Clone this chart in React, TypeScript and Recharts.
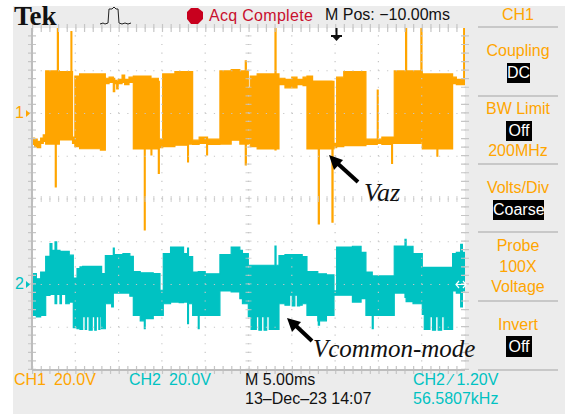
import React from 'react'
import { Area, ComposedChart, ReferenceLine, XAxis, YAxis } from 'recharts'

// CH1 envelope, ms / volts (20 V/div, marker at 0 V)
const ch1Time = [0, 0.3, 0.6, 1.0, 1.3, 1.58, 2.69, 2.8, 2.93, 3.05, 3.16, 4.5, 4.6, 4.68, 4.95, 5.5, 7.9, 8.47, 8.9, 9.39, 9.55, 9.78, 9.95, 10.4, 10.7, 11.2, 11.7, 12.97, 13.07, 13.74, 13.84, 14.59, 14.7, 15.09, 16.5, 17.97, 18.07, 18.55, 19.3, 20.17, 20.27, 21.7, 23, 24, 24.63, 24.75, 24.98, 25.2, 26, 28.06, 28.18, 28.52, 29.21, 30, 30.6, 31.3, 31.75, 32.4, 33.06, 33.18, 34.64, 34.76, 34.87, 35.18, 36, 38.56, 39.87, 39.97, 40.4, 41.53, 41.63, 41.83, 43.14, 43.26, 44.91, 45.03, 45.07, 46.76, 46.86, 48.57, 49, 49.85, 50]
const ch1High = [-11.5, -12, -13, -11.5, -10, 19.9, 19.9, 19.9, 40, 19.9, 19.6, 38.3, 19.6, -11, 17.5, 18.5, 18.5, 16.5, 17, 16.5, 15.5, 15, 16, 18, 16, 17, 17.5, 17.5, 17.5, 16.5, 16.5, 15, -12, 18.5, 19.6, 19.6, 19.6, -12.5, -11, -11, -12, 19.9, 20.5, 19.9, 24.6, 19.9, 12, 17.5, 18.5, 40, 18.5, 16.5, 16, 17, 16, 17, 17.5, 15.2, 15.2, 15.2, 15, 15, -14, 17, 19.6, -12, 11, -12, -11, -11, -11, 19.9, 40, 19.9, 40, 19.9, 18.5, 18.5, 18.5, 17, 16, 40, 40]
const ch1Low = [-14.5, -15.5, -16, -14, -13, -14.3, -34.3, -14.3, -14.3, -14.3, -12.4, -12.4, -12.4, -14, -15.5, -16.5, -17.1, 14, 14.5, 10.2, 14, 11.5, 14, 14.5, 13.5, 14.5, -16.6, -54.5, -16.6, -19.4, -16.6, -28, -16, -15.5, -14.8, -22.6, -14.3, -14.5, -14, -19.4, -14.5, -14.3, -12.5, -14.3, -24.1, -14.3, -14, -15.5, -16.6, -17, -16.6, 13.5, 12, 12, 13.5, 13, -16.6, -16.6, -51.7, -16.6, -50.8, -16.6, -16, -15.5, -15, -14.5, -14, -14, -14.5, -23.3, -14, -14, -14, -14, -13, -13, -16.6, -20, -16.6, 14, 13.5, 13.5, 13.5]

// CH2 envelope, ms / volts (20 V/div, marker at 0 V)
const ch2Time = [0, 0.5, 1, 1.58, 2.08, 2.3, 2.66, 2.85, 3.23, 3.4, 3.9, 4.3, 4.77, 5.2, 5.54, 5.85, 6.15, 6.3, 6.6, 6.95, 7.25, 7.42, 7.72, 7.85, 8.04, 8.47, 9.2, 9.39, 9.5, 10.5, 11.3, 11.7, 12.5, 12.97, 13.07, 14, 14.78, 15.16, 16, 17, 17.5, 17.97, 18.07, 18.55, 19.2, 19.3, 20, 21.7, 23, 24, 24.3, 24.98, 25.3, 25.9, 26.2, 26.5, 26.8, 27.1, 27.4, 28.06, 28.18, 28.52, 29.21, 29.75, 30.05, 30.35, 30.65, 30.9, 31.2, 31.75, 33, 33.06, 33.2, 34, 34.87, 35.18, 37, 38, 38.56, 39.29, 39.4, 40.5, 41.83, 43.07, 43.2, 44, 45.07, 45.3, 45.95, 46.25, 46.6, 46.9, 47.3, 47.6, 48.57, 49, 49.5, 49.7, 50]
const ch2High = [5.1, 2.7, 5.8, 13.2, 19.1, 16, 19.9, 16, 15.5, 15.5, 15.5, 13.7, 3, 7.4, 8.2, 8.5, 8.5, 8.5, 8.5, 8.5, 8.5, 8.5, 8.5, 8.5, 5.1, 13.5, 13.5, 17, 14, 14.5, 13.2, 6, 5.5, 5.5, 5.5, 5.1, -2.7, 14.4, 17.5, 17.5, 14.4, 17, 13, 5.8, 6, 6, 5, 14, 17.5, 16, 14.4, 9, 9, 9, 9, 9, 9, 9, 9, 18, 9, 13.5, 14, 14, 14, 14, 14, 14, 13, 6, 5, 5, 5, 4.5, -3, 17.5, 17.9, 15, 5.8, 3, 4, 4, 18, 21.1, 17.9, 14.5, 8, 8, 8, 8, 8, 8, 8, 8, 14.5, 15, 18.8, 15, 15]
const ch2Low = [-14.4, -15.2, -14.4, -5.1, -4.6, -4.6, -9, -4.6, -9, -4.6, -9, -8.2, -20.2, -20.7, -21, -15, -21, -15, -21.4, -15, -21.4, -15, -21, -15, -20.7, -9, -10.5, -4, -4, -4, -5.5, -14.4, -17, -20.7, -16, -14.4, -14.4, -9, -8.2, -8.5, -8.2, -18.3, -9, -14.4, -20.7, -14.4, -14.4, -3, -3.5, -6.6, -9, -15, -21, -15, -21.4, -15, -21.4, -15, -21, -21, -21, -9, -9.7, -5, -10, -5, -10, -9.7, -9, -14.4, -17, -19, -17, -14.4, -5, -5, -8.2, -6.6, -14.4, -20.7, -14.4, -14.4, -4, -6, -8, -9, -14, -21, -15, -21.4, -15, -21.4, -15, -21, -3, -4, -10.5, -3, -3]

const timeDivs = [0, 5, 10, 15, 20, 25, 30, 35, 40, 45, 50]
const voltDivs = [40, 20, 0, -20, -40, -60, -80, -100, -120]

const ch1Rows = ch1Time.map((t, i) => ({ t, range: [ch1Low[i], ch1High[i]] }))
const ch2Rows = ch2Time.map((t, i) => ({ t, range: [ch2Low[i], ch2High[i]] }))

const ORANGE = '#ffa500'
const TEAL = '#00c2c2'
const GRID = '#c6c6c6'
const scopeFont = '"Liberation Sans", Arial, sans-serif'
const paperFont = '"Liberation Serif", "Times New Roman", serif'

const label = (
  text: string,
  x: number,
  y: number,
  color: string,
  extra: React.CSSProperties = {},
) => (
  <div
    style={{
      position: 'absolute',
      left: x,
      top: y - 10,
      height: 20,
      lineHeight: '20px',
      fontFamily: scopeFont,
      fontSize: 16,
      color,
      whiteSpace: 'pre',
      ...extra,
    }}
  >
    {text}
  </div>
)

const sideLabel = (text: string, y: number) =>
  label(text, 458, y, ORANGE, { width: 120, textAlign: 'center' })

const blackBox = (text: string, x: number, y: number, w: number, h: number) => (
  <div
    style={{
      position: 'absolute',
      left: x,
      top: y,
      width: w,
      height: h,
      lineHeight: `${h}px`,
      background: '#000',
      color: '#fff',
      textAlign: 'center',
      fontFamily: scopeFont,
      fontSize: 16,
    }}
  >
    {text}
  </div>
)

const App = () => {
  return (
    <div style={{ position: 'absolute', left: 0, top: 0, width: 569, height: 414, background: '#fff', overflow: 'hidden' }}>
      <div style={{ position: 'absolute', left: 13, top: 6, width: 552, height: 408, background: '#ececec' }} />
      <div style={{ position: 'absolute', left: 32, top: 28, width: 433, height: 342, background: '#fff' }} />

      <div style={{ position: 'absolute', left: 0, top: 0 }}>
        <ComposedChart width={569} height={414} margin={{ top: 28, right: 104, bottom: 44, left: 32 }}>
          <XAxis type="number" dataKey="t" domain={[0, 50]} hide allowDataOverflow />
          <YAxis yAxisId="ch1" type="number" domain={[-120, 40]} hide allowDataOverflow />
          <YAxis yAxisId="ch2" type="number" domain={[-40, 120]} hide allowDataOverflow />
          <Area
            data={ch1Rows}
            yAxisId="ch1"
            dataKey="range"
            type="stepAfter"
            stroke={ORANGE}
            strokeWidth={1.2}
            fill={ORANGE}
            fillOpacity={1}
            dot={false}
            activeDot={false}
            isAnimationActive={false}
          />
          <Area
            data={ch2Rows}
            yAxisId="ch2"
            dataKey="range"
            type="stepAfter"
            stroke={TEAL}
            strokeWidth={1.2}
            fill={TEAL}
            fillOpacity={1}
            dot={false}
            activeDot={false}
            isAnimationActive={false}
          />
          {timeDivs.map((t) => (
            <ReferenceLine key={`v${t}`} yAxisId="ch1" x={t} stroke={GRID} strokeDasharray="1.2 7.35" strokeWidth={1.2} />
          ))}
          {voltDivs.map((v) => (
            <ReferenceLine key={`h${v}`} yAxisId="ch1" y={v} stroke={GRID} strokeDasharray="1.2 7.46" strokeWidth={1.2} />
          ))}
          {/* tick rows: thick short dashes along the edges and centre lines */}
          <ReferenceLine yAxisId="ch1" y={-40} stroke={GRID} strokeOpacity={0.7} strokeDasharray="1.2 7.46" strokeWidth={6} />
          <ReferenceLine yAxisId="ch1" y={40} stroke={GRID} strokeDasharray="1.2 7.46" strokeWidth={8} />
          <ReferenceLine yAxisId="ch1" y={-120} stroke={GRID} strokeDasharray="1.2 7.46" strokeWidth={8} />
          <ReferenceLine yAxisId="ch1" x={25} stroke={GRID} strokeOpacity={0.7} strokeDasharray="1.2 7.35" strokeWidth={6} />
          <ReferenceLine yAxisId="ch1" x={0} stroke={GRID} strokeDasharray="1.2 7.35" strokeWidth={8} />
          <ReferenceLine yAxisId="ch1" x={50} stroke={GRID} strokeDasharray="1.2 7.35" strokeWidth={8} />
          <ReferenceLine yAxisId="ch1" x={0} stroke="#bdbdbd" strokeWidth={2} />
          <ReferenceLine yAxisId="ch1" y={-120} stroke="#bdbdbd" strokeWidth={2} />
        </ComposedChart>
      </div>

      {/* header */}
      <div style={{ position: 'absolute', left: 14, top: 1, fontFamily: paperFont, fontWeight: 700, fontSize: 27, lineHeight: '30px', color: '#111' }}>Tek</div>
      <svg width={569} height={414} style={{ position: 'absolute', left: 0, top: 0 }}>
        <polyline points="100,24 103,23 105,24 108,23 109,9 112,9 114,7 116,9 118,9 119,23 122,24 125,23 128,24 131,23" fill="none" stroke="#222" strokeWidth={1} />
        <polygon points="191,8 198,8 203,12 203,19 198,24 191,24 187,19 187,12" fill="#c8001e" />
        {/* trigger position */}
        <polygon points="331,35 342,35 336.5,41" fill="#111" />
        <line x1={336.5} y1={28} x2={336.5} y2={36} stroke="#111" strokeWidth={2} />
        <line x1={331} y1={36} x2={342} y2={36} stroke="#111" strokeWidth={2} />
        {/* channel markers */}
        <polygon points="26,110 30,113.5 26,117" fill={ORANGE} />
        <polygon points="26,281 30,284.5 26,288" fill={TEAL} />
        {/* ch2 trigger level cursor */}
        <path d="M459 281 L456 284.5 L459 288 M463 281 L466 284.5 L463 288 M456 284.5 H466" fill="none" stroke="#fff" strokeWidth={1.2} />
        {/* annotation arrows */}
        <line x1={358} y1={182} x2={336} y2={162} stroke="#000" strokeWidth={4} />
        <polygon points="329,155 343,160 334,170" fill="#000" />
        <line x1={312} y1={341} x2={294} y2={324} stroke="#000" strokeWidth={4} />
        <polygon points="287,318 301,322 292,332" fill="#000" />
        {/* side panel separators */}
        {[27, 96, 164, 232, 301, 370].map((y) => (
          <line key={y} x1={478} y1={y} x2={558} y2={y} stroke="#bdbdbd" strokeWidth={1.5} />
        ))}
      </svg>

      {label('Acq Complete', 209, 16, '#c8102e', { letterSpacing: 0.3 })}
      {label('M Pos: \u221210.00ms', 325, 15, '#111')}

      {sideLabel('CH1', 15)}
      {sideLabel('Coupling', 51)}
      {blackBox('DC', 507, 63, 23, 20)}
      {sideLabel('BW Limit', 109)}
      {blackBox('Off', 506, 121, 26, 20)}
      {sideLabel('200MHz', 151)}
      {sideLabel('Volts/Div', 188)}
      {blackBox('Coarse', 493, 200, 51, 20)}
      {sideLabel('Probe', 246)}
      {sideLabel('100X', 267)}
      {sideLabel('Voltage', 287)}
      {sideLabel('Invert', 325)}
      {blackBox('Off', 506, 336, 26, 21)}

      {label('1', 15, 113, ORANGE)}
      {label('2', 15, 284, TEAL)}

      {label('CH1', 14, 380, ORANGE)}
      {label('20.0V', 54, 380, ORANGE)}
      {label('CH2', 129, 380, TEAL)}
      {label('20.0V', 169, 380, TEAL)}
      {label('M 5.00ms', 245, 380, '#111')}
      {label('13\u2013Dec\u201323 14:07', 245, 399, '#111')}
      {label('CH2 \u2215 1.20V', 413, 380, TEAL)}
      {label('56.5807kHz', 413, 399, TEAL)}

      <div style={{ position: 'absolute', left: 364, top: 178, fontFamily: paperFont, fontStyle: 'italic', fontSize: 26, lineHeight: '30px', color: '#111' }}>Vaz</div>
      <div style={{ position: 'absolute', left: 313, top: 334, fontFamily: paperFont, fontStyle: 'italic', fontSize: 25, lineHeight: '30px', color: '#111', whiteSpace: 'pre' }}>Vcommon-mode</div>
    </div>
  )
}

export default App
